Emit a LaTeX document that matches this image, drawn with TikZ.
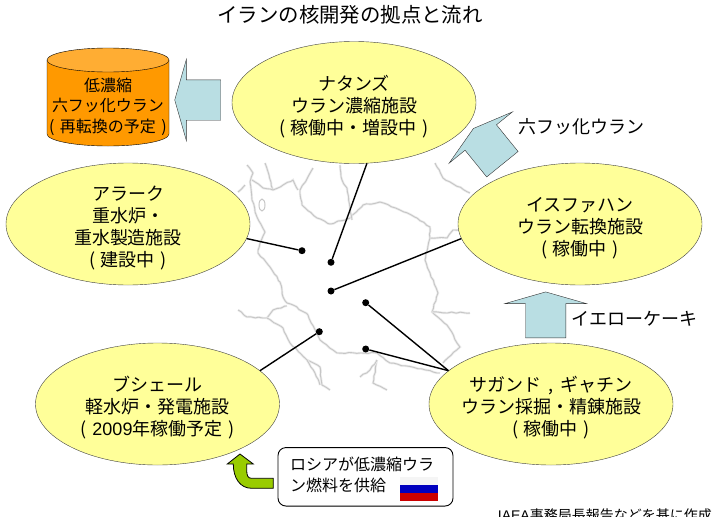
\documentclass[tikz,border=0pt]{standalone}
\usepackage{fontspec}
\setmainfont{Noto Sans CJK JP}
\newfontfamily\latn{Liberation Sans}
\usetikzlibrary{shapes,arrows,positioning,calc,decorations.pathmorphing}

\definecolor{siteyellow}{HTML}{FFFF99}
\definecolor{stockorange}{HTML}{FF9900}
\definecolor{stocktop}{HTML}{FFAD33}
\definecolor{flowblue}{HTML}{B9DEE3}
\definecolor{fuelgreen}{HTML}{99CC00}
\newcommand{\stat}[1]{(\hspace{5.5pt}#1\hspace{5.5pt})}
\newcommand{\topgap}{\rule{0pt}{23pt}}

\begin{document}
\begin{tikzpicture}[
        x=1pt, y=-1pt,
        site/.style={ellipse, draw=black!75, fill=siteyellow, minimum width=244pt, minimum height=122pt, inner sep=-10pt, align=center, font=\fontsize{18}{22}\selectfont},
        flow/.style={single arrow, draw=black!80, fill=flowblue, minimum height=46pt, text height=40pt, text depth=0pt, inner sep=0pt, single arrow head extend=20.5pt, single arrow tip angle=148},
        plant/.style={circle, fill=black, minimum size=7pt, inner sep=0pt},
        lbl/.style={font=\fontsize{18}{22}\selectfont, inner sep=0pt},
        conn/.style={line width=1.4pt},
        mapline/.style={gray!45, line width=0.9pt, line join=round, preaction={draw, gray!15, line width=2.4pt}, decorate, decoration={random steps, segment length=4pt, amplitude=0.6pt}}
    ]
        \useasboundingbox (0,0) rectangle (721,517);

        % Map outline
        \draw[mapline] (247,165) -- (253,173) -- (250,182) -- (252,200) -- (257,217) -- (265,232) -- (260,243) -- (258,253) -- (270,267) -- (280,282) -- (283,297) -- (287,303) -- (293,305) -- (308,315) -- (320,340) -- (337,353) -- (360,353) -- (377,353) -- (390,363) -- (440,373);
        \draw[mapline] (238,310) -- (247,317) -- (267,318) -- (273,310) -- (287,306);
        \draw[mapline] (267,318) -- (283,328) -- (290,343) -- (300,353) -- (307,360) -- (320,367) -- (322,385) -- (330,390);
        \draw[mapline] (307,360) -- (315,373) -- (320,385);
        \draw[mapline] (313,168) -- (300,190) -- (302,205) -- (317,218) -- (330,224) -- (350,218) -- (363,205) -- (380,202) -- (400,210) -- (417,218) -- (430,227) -- (430,238) -- (425,260) -- (430,273) -- (438,293) -- (432,312) -- (447,325) -- (460,347) -- (443,363);
        \draw[mapline] (430,238) -- (447,238) -- (453,230) -- (460,230);
        \draw[mapline] (432,312) -- (470,313);
        \draw[mapline] (435,163) -- (443,178) -- (470,193);
        \draw[mapline] (265,163) -- (273,190);
        \draw[mapline] (252,180) -- (263,188) -- (273,190) -- (293,180) -- (298,190);
        \draw[mapline] (340,165) -- (342,180) -- (347,188) -- (352,220);
        \draw[mapline] (238,192) -- (245,185);
        \draw[mapline] (377,360) -- (373,383) -- (387,390);
        \draw[mapline] (360,377) -- (370,370) -- (377,360);
        \draw[gray!45, line width=1pt] (262,205) ellipse (3 and 6);

        % Title and notes
        \node[font=\fontsize{20.4}{24}\selectfont, inner sep=0pt] (title) at (350,15) {イランの核開発の拠点と流れ};
        \node[font=\fontsize{14}{16}\selectfont, inner sep=0pt, anchor=east] (source) at (712,515) {{\latn IAEA}事務局長報告などを基に作成};

        % Sites
        \node[site] (natanz) at (354,102.5) {\topgap ナタンズ\\ウラン濃縮施設\\\stat{稼働中・増設中}};
        \node[site] (arak) at (128,224) {\topgap アラーク\\重水炉・\\重水製造施設\\\stat{建設中}};
        \node[site] (isfahan) at (580,224) {\topgap イスファハン\\ウラン転換施設\\\stat{稼働中}};
        \node[site] (bushehr) at (157.5,404) {\topgap ブシェール\\軽水炉・発電施設\\\stat{{\latn 2009}年稼働予定}};
        \node[site] (saghand) at (551,404) {\topgap サガンド\, , \,ギャチン\\ウラン採掘・精錬施設\\\stat{稼働中}};

        % Stockpile
        \draw[fill=stockorange] (47,60) -- (47,134) arc[start angle=180, end angle=360, x radius=61pt, y radius=12pt] -- (169,60) -- cycle;
        \draw[fill=stocktop] (108,60) ellipse [x radius=61pt, y radius=12pt];
        \node[font=\fontsize{16}{20.5}\selectfont, inner sep=0pt, align=center] (stocktext) at (108,106.5) {低濃縮\\六フッ化ウラン\\\stat{再転換の予定}};

        % Plant positions
        \node[plant] (parak) at (302,250.7) {};
        \node[plant] (pnatanz) at (331,262.3) {};
        \node[plant] (pisfahan) at (331,291) {};
        \node[plant] (psaghand) at (365.7,302.7) {};
        \node[plant] (pgachin) at (365.7,349) {};
        \node[plant] (pbushehr) at (319.3,331.7) {};

        % Lines to the map
        \draw[conn] (arak.-7) -- (parak);
        \draw[conn] (natanz.-78) -- (pnatanz);
        \draw[conn] (isfahan.187) -- (pisfahan);
        \draw[conn] (bushehr.18) -- (pbushehr);
        \draw[conn] (saghand.162) -- (psaghand);
        \draw[conn] (saghand.162) -- (pgachin);

        % Material flows
        \node[flow, rotate=180, anchor=tip] (toStock) at (174.5,100) {};
        \node[flow, rotate=129, anchor=tip] (toNatanz) at (473.3,128.3) {};
        \node[flow, rotate=90, anchor=tip] (toIsfahan) at (545.7,291.7) {};
        \node[lbl, anchor=west] (uf) at (518,127) {六フッ化ウラン};
        \node[lbl, anchor=west] (cake) at (571.7,319) {イエローケーキ};

        % Fuel supply
        \node[draw, rounded corners=8pt, line width=0.9pt, fill=white, minimum width=175pt, minimum height=58.5pt] (supply) at (365.5,476.8) {};
        \node[font=\fontsize{16}{21}\selectfont, inner sep=0pt, align=left, anchor=north west] (supplytext) at (290,457) {ロシアが低濃縮ウラ\\ン燃料を供給};
        \fill[gray!8] (400,477) rectangle (437.7,485);
        \fill[blue!75!black] (400,485) rectangle (437.7,493);
        \fill[red!80!black] (400,493) rectangle (437.7,500.7);
        \draw[fill=fuelgreen, line width=0.8pt] (240,454) -- (253.3,464) -- (246.7,464) -- (246.7,470) .. controls (246.7,476) and (248,478.3) .. (251.7,478.3) -- (273.3,478.3) -- (273.3,488.3) -- (251.7,488.3) .. controls (240,488.3) and (233.3,478) .. (233.3,464) -- (227.3,464) -- cycle;
    \end{tikzpicture}
\end{document}
